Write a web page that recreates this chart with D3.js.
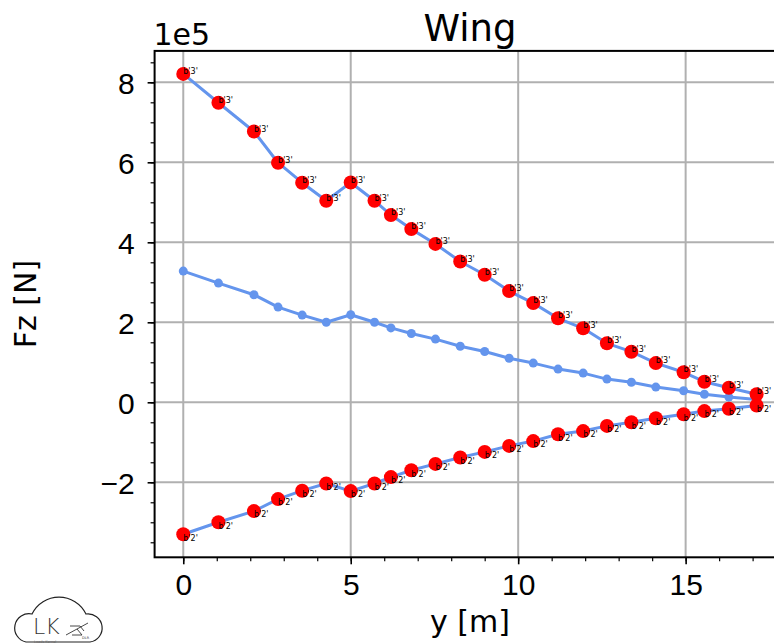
<!DOCTYPE html>
<html>
<head>
<meta charset="utf-8">
<script src="https://cdn.jsdelivr.net/npm/d3@7"></script>
<style>
  html, body { margin: 0; padding: 0; background: #fff; }
  svg { display: block; font-family: "DejaVu Sans", sans-serif; }
</style>
</head>
<body>
<svg id="chart" width="774" height="644"></svg>
<script>
// Spanwise stations along the wing [m]
const stations = [0, 1.05, 2.11, 2.83, 3.55, 4.27, 5.0, 5.71, 6.2, 6.81, 7.53, 8.27,
                  9.0, 9.73, 10.45, 11.19, 11.94, 12.65, 13.38, 14.11, 14.94, 15.56, 16.29, 17.12];

// Shear force envelope Fz [N]: maximum, reference and minimum
const fzMax = [821000, 749000, 677000, 599000, 549000, 504000, 549500, 504000, 468000, 433000, 396000, 352000,
               319000, 278000, 248000, 210000, 185000, 147500, 126500, 98000, 75000, 51500, 36500, 20000];
const fzRef = [328000, 298000, 269000, 238000, 218000, 200000, 219000, 200000, 186000, 172000, 158000, 140000,
               127000, 110000, 98000, 83000, 73000, 58000, 50000, 38000, 29000, 20000, 13000, 7000];
const fzMin = [-330000, -300000, -272000, -242000, -221000, -203000, -222000, -203000, -187000, -170000, -154000, -138000,
               -124000, -109000, -97000, -80000, -72000, -59000, -50000, -40000, -30000, -22000, -16000, -8000];

// Load case tags printed next to the envelope points
const maxTag = "b'3'";
const minTag = "b'2'";

const xTicks = [0, 5, 10, 15];
const yTicks = [-2, 0, 2, 4, 6, 8];   // in units of 1e5 N
const yExponent = "1e5";

const svg = d3.select("#chart");
const pL = 154.6, pR = 785.3, pT = 50.9, pB = 557.3;

// 5 % padding around the data, as in the usual plotting default
const xExt = d3.extent(stations);
const xPad = (xExt[1] - xExt[0]) * 0.05;
const x = d3.scaleLinear().domain([xExt[0] - xPad, xExt[1] + xPad]).range([pL, pR]);

const allY = fzMax.concat(fzRef, fzMin);
const yExt = d3.extent(allY);
const yPad = (yExt[1] - yExt[0]) * 0.05;
const y = d3.scaleLinear().domain([yExt[0] - yPad, yExt[1] + yPad]).range([pB, pT]);

const gridColor = "#b0b0b0";
const lineColor = "#6495ed";

// clip region for the plotting area
svg.append("defs").append("clipPath").attr("id", "plotClip")
  .append("rect").attr("x", pL).attr("y", pT).attr("width", pR - pL).attr("height", pB - pT);

// grid
const grid = svg.append("g");
xTicks.forEach(t => grid.append("line")
  .attr("x1", x(t)).attr("x2", x(t)).attr("y1", pT).attr("y2", pB)
  .attr("stroke", gridColor).attr("stroke-width", 2));
yTicks.forEach(t => grid.append("line")
  .attr("x1", pL).attr("x2", pR).attr("y1", y(t * 1e5)).attr("y2", y(t * 1e5))
  .attr("stroke", gridColor).attr("stroke-width", 2));

const plot = svg.append("g").attr("clip-path", "url(#plotClip)");
const line = d3.line().x((d, i) => x(stations[i])).y(d => y(d));

[fzMax, fzRef, fzMin].forEach(series => {
  plot.append("path").datum(series)
    .attr("d", line).attr("fill", "none")
    .attr("stroke", lineColor).attr("stroke-width", 3)
    .attr("stroke-linejoin", "round").attr("stroke-linecap", "round");
});

// reference distribution: small markers in the line colour
plot.append("g").selectAll("circle").data(fzRef).join("circle")
  .attr("cx", (d, i) => x(stations[i])).attr("cy", d => y(d))
  .attr("r", 4.5).attr("fill", lineColor);

// envelope points in red
[fzMax, fzMin].forEach(series => {
  plot.append("g").selectAll("circle").data(series).join("circle")
    .attr("cx", (d, i) => x(stations[i])).attr("cy", d => y(d))
    .attr("r", 7).attr("fill", "#ff0000");
});

// tags: above the point for maxima, below for minima
const tags = svg.append("g").attr("font-size", 8).attr("fill", "#000");
fzMax.forEach((d, i) => tags.append("text")
  .attr("x", x(stations[i])).attr("y", y(d)).text(maxTag));
fzMin.forEach((d, i) => tags.append("text")
  .attr("x", x(stations[i])).attr("y", y(d) + 6.3).text(minTag));

// axes
const axX = d3.axisBottom(x).tickValues(d3.range(0, 18, 1)).tickSize(4).tickFormat("");
svg.append("g").attr("transform", `translate(0,${pB})`).call(axX)
  .call(g => g.select(".domain").remove())
  .call(g => g.selectAll("line").attr("stroke", "#000").attr("stroke-width", 1.2));
const axXMaj = d3.axisBottom(x).tickValues(xTicks).tickSize(7).tickPadding(8)
  .tickFormat(d3.format("d"));
svg.append("g").attr("transform", `translate(0,${pB})`).call(axXMaj)
  .call(g => g.select(".domain").remove())
  .call(g => g.selectAll("line").attr("stroke", "#000").attr("stroke-width", 1.6))
  .call(g => g.selectAll("text").attr("font-size", 30).attr("fill", "#000")
    .attr("dy", null).attr("y", 595 - pB));

const minorY = d3.range(-3.5, 8.51, 0.5).map(v => v * 1e5);
const axY = d3.axisLeft(y).tickValues(minorY).tickSize(4).tickFormat("");
svg.append("g").attr("transform", `translate(${pL},0)`).call(axY)
  .call(g => g.select(".domain").remove())
  .call(g => g.selectAll("line").attr("stroke", "#000").attr("stroke-width", 1.2));
const axYMaj = d3.axisLeft(y).tickValues(yTicks.map(v => v * 1e5)).tickSize(7).tickPadding(13)
  .tickFormat(v => d3.format("d")(v / 1e5).replace("-", "\u2212"));
svg.append("g").attr("transform", `translate(${pL},0)`).call(axYMaj)
  .call(g => g.select(".domain").remove())
  .call(g => g.selectAll("line").attr("stroke", "#000").attr("stroke-width", 1.6))
  .call(g => g.selectAll("text").attr("font-size", 30).attr("fill", "#000").attr("dy", "0.36em"));

// frame
svg.append("rect").attr("x", pL).attr("y", pT).attr("width", pR - pL).attr("height", pB - pT)
  .attr("fill", "none").attr("stroke", "#000").attr("stroke-width", 2);

// texts
svg.append("text").attr("x", (pL + pR) / 2).attr("y", 41).attr("text-anchor", "middle")
  .attr("font-size", 37).text("Wing");
svg.append("text").attr("x", 153.5).attr("y", 45).attr("font-size", 30).text(yExponent);
svg.append("text").attr("x", (pL + pR) / 2).attr("y", 632).attr("text-anchor", "middle")
  .attr("font-size", 30).text("y [m]");
svg.append("text").attr("transform", `translate(36,${(pT + pB) / 2}) rotate(-90)`)
  .attr("text-anchor", "middle").attr("font-size", 30).text("Fz [N]");

// Loads Kernel logo
const logo = svg.append("g");
logo.append("path")
  .attr("d", "M26,642 H90 A14,14 0 0 0 86,614 A30,30 0 0 0 32,614 A14,14 0 0 0 26,642 Z")
  .attr("fill", "none").attr("stroke", "#222").attr("stroke-width", 1.2);
logo.append("text").attr("x", 33).attr("y", 634).attr("font-size", 22)
  .attr("font-weight", 200).attr("fill", "#333").text("LK");
logo.append("text").attr("x", 34).attr("y", 643).attr("font-size", 3.5).attr("fill", "#666").text("Loads Kernel");
logo.append("text").attr("x", 82).attr("y", 639).attr("font-size", 3.5).attr("fill", "#333").text("DLR");
logo.append("path")
  .attr("d", "M66,635 L88,623 M70,626 L80,626 L84,631 M72,635 L82,635 L77,629")
  .attr("fill", "none").attr("stroke", "#333").attr("stroke-width", 0.9);
</script>
</body>
</html>
